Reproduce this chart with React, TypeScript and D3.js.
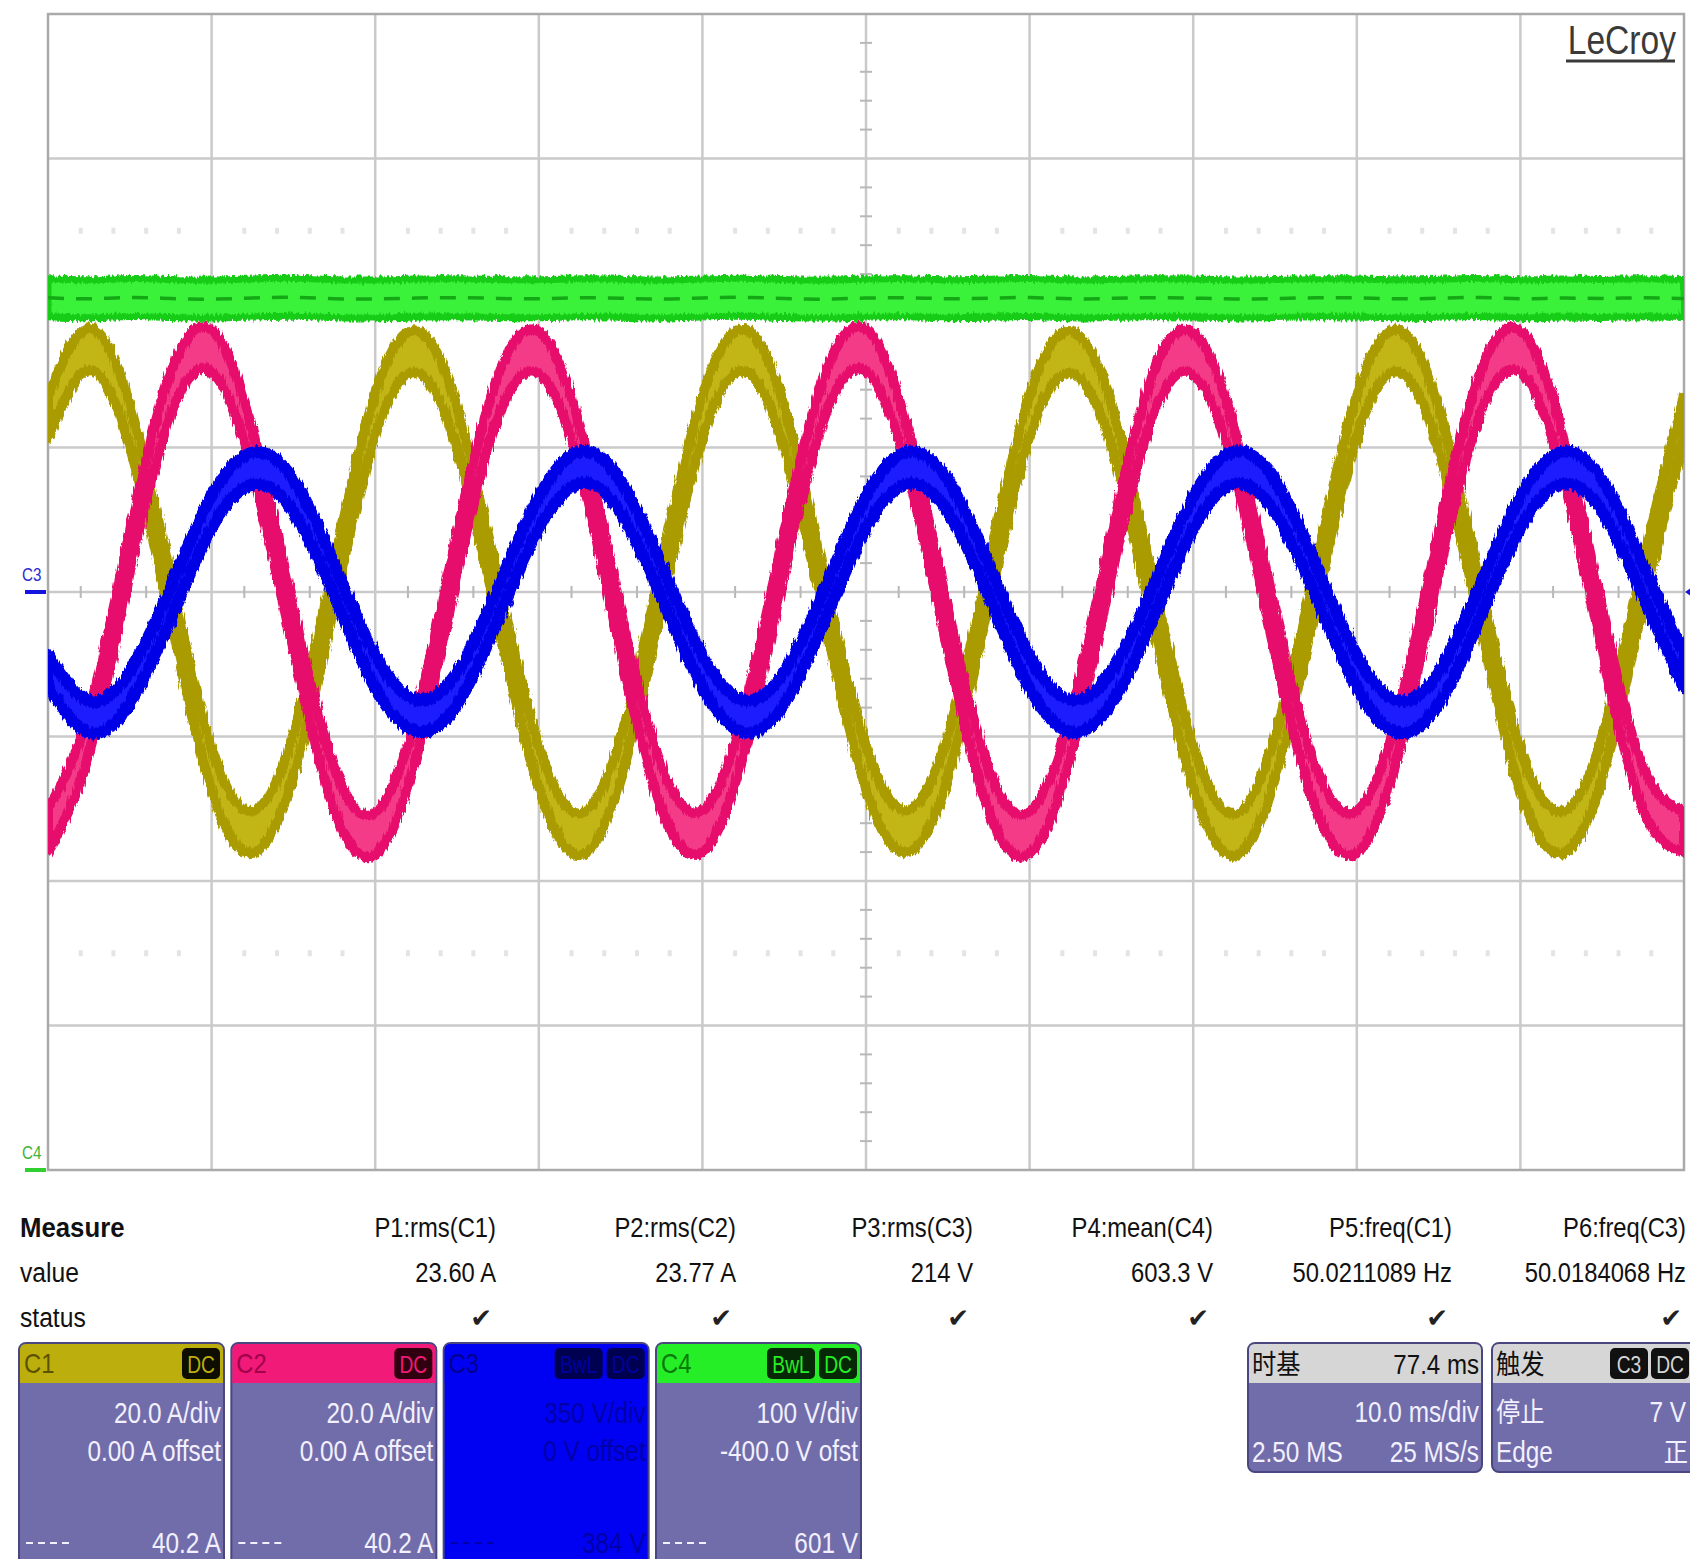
import React from 'react';
import * as d3 from 'd3';

const WIDTH = 1690;
const HEIGHT = 1559;
const GRID = { left: 48, top: 14, right: 1684, bottom: 1170 };
const DIVS_X = 10;
const DIVS_Y = 8;
const SANS = "'Liberation Sans', Arial, sans-serif";
const CJK = "'Noto Sans CJK SC', 'Liberation Sans', sans-serif";

// sample instants, ms (10 ms/div, 10 div)
const TIME_MS = [0, 2.5, 5, 7.5, 10, 12.5, 15, 17.5, 20, 22.5, 25, 27.5, 30, 32.5, 35, 37.5, 40, 42.5, 45, 47.5,
  50, 52.5, 55, 57.5, 60, 62.5, 65, 67.5, 70, 72.5, 75, 77.5, 80, 82.5, 85, 87.5, 90, 92.5, 95, 97.5, 100];

// C1 current, A
const C1_AMPS = [24.1, 33.6, 23.0, -0.8, -24.5, -33.2, -22.6, 1.2,
  24.5, 33.3, 22.7, -1.1, -24.2, -33.5, -23.1, 0.9,
  24.2, 33.5, 22.8, -1.3, -24.4, -33.1, -22.8, 1.1,
  24.4, 33.2, 23.1, -0.9, -24.1, -33.6, -22.9, 0.8,
  24.3, 33.4, 22.6, -1.2, -24.6, -33.3, -23.0, 1.0,
  24.3];

// C2 current, A
const C2_AMPS = [-33.0, -19.6, 5.5, 27.4, 33.4, 19.6, -5.1, -27.3,
  -33.4, -20.0, 5.2, 27.0, 33.1, 20.0, -5.4, -27.0,
  -33.1, -19.7, 5.4, 27.3, 33.5, 19.9, -5.2, -27.4,
  -33.3, -19.9, 5.1, 27.1, 33.0, 19.7, -5.5, -27.1,
  -33.2, -19.8, 5.3, 27.2, 33.3, 19.8, -5.3, -27.2,
  -33.2];

// C3 voltage, V
const C3_VOLTS = [-191, -302, -231, -27, 194, 299, 234, 30,
  -193, -299, -234, -29, 191, 302, 231, 27,
  -192, -301, -233, -28, 193, 300, 233, 29,
  -194, -300, -232, -30, 192, 301, 232, 28,
  -192, -302, -233, -27, 193, 300, 234, 28,
  -192];

// C4 dc bus, V
const C4_VOLTS = [603.6, 602.9, 603.8, 603.1, 602.7, 603.5, 603.9, 603.0, 602.8, 603.4,
  603.7, 603.2, 602.9, 603.6, 603.3, 602.8, 603.5, 603.9, 603.1, 602.7,
  603.4, 603.6, 603.0, 603.3, 603.8, 602.9, 603.2, 603.7, 603.4, 602.8,
  603.1, 603.6, 603.5, 602.9, 603.3, 603.8, 603.0, 603.4, 603.2, 603.6,
  603.1];

const CHANNEL_IDS = ['C1', 'C2', 'C3', 'C4'];
const VOLTS_PER_DIV = [20, 20, 350, 100];
const OFFSETS = [0, 0, 0, -400];
const SERIES = [C1_AMPS, C2_AMPS, C3_VOLTS, C4_VOLTS];

const MEASURE_NAMES = ['P1:rms(C1)', 'P2:rms(C2)', 'P3:rms(C3)', 'P4:mean(C4)', 'P5:freq(C1)', 'P6:freq(C3)'];
const MEASURE_VALUES = ['23.60 A', '23.77 A', '214 V', '603.3 V', '50.0211089 Hz', '50.0184068 Hz'];

const BOX_SCALE = ['20.0 A/div', '20.0 A/div', '350 V/div', '100 V/div'];
const BOX_OFFSET = ['0.00 A offset', '0.00 A offset', '0 V offset', '-400.0 V ofst'];
const BOX_LEVEL = ['40.2 A', '40.2 A', '384 V', '601 V'];
const BOX_BADGES = [['DC'], ['DC'], ['BwL', 'DC'], ['BwL', 'DC']];

const TIMEBASE = { title: '时基', delay: '77.4 ms', perDiv: '10.0 ms/div', points: '2.50 MS', rate: '25 MS/s' };
const TRIGGER = { title: '触发', source: 'C3', coupling: 'DC', state: '停止', level: '7 V', type: 'Edge', slope: '正' };

const TRACE_STYLE = [
  { fill: '#c2b519', stroke: '#a99b06', half: 21, width: 10 },
  { fill: '#f33a88', stroke: '#e6106c', half: 21, width: 10 },
  { fill: '#1c1cff', stroke: '#0606e6', half: 16, width: 12 },
  { fill: '#3af23a', stroke: '#18cc18', half: 19, width: 7 },
];
const HEADER_STYLE = [
  { bg: '#bcae0c', text: '#5c5200', badgeBg: '#0d0d00', badgeText: '#bcae0c' },
  { bg: '#f21a78', text: '#a0004c', badgeBg: '#300010', badgeText: '#f21a78' },
  { bg: '#0000f2', text: '#000090', badgeBg: '#000050', badgeText: '#0000a0' },
  { bg: '#26ee26', text: '#0a7a0a', badgeBg: '#062806', badgeText: '#26ee26' },
];
const BOX_BODY = '#716daa';

const X = d3.scaleLinear().domain([0, 100]).range([GRID.left, GRID.right]);
const yScaleFor = (perDiv: number, offset: number) =>
  d3.scaleLinear().domain([-4 * perDiv - offset, 4 * perDiv - offset]).range([GRID.bottom, GRID.top]);

const divX = (GRID.right - GRID.left) / DIVS_X;
const divY = (GRID.bottom - GRID.top) / DIVS_Y;
const centerX = GRID.left + divX * 5;
const centerY = GRID.top + divY * 4;

function T({ x, y, children, size = 28, anchor = 'start', fill = '#111', weight = 400, sx = 0.88, family = SANS }: any) {
  return (
    <text transform={`translate(${x},${y}) scale(${sx},1)`} fontSize={size} textAnchor={anchor}
      fill={fill} fontWeight={weight} fontFamily={family}>{children}</text>
  );
}

function Grid() {
  const xs = d3.range(1, DIVS_X).map(i => GRID.left + i * divX);
  const ys = d3.range(1, DIVS_Y).map(i => GRID.top + i * divY);
  const minorX = d3.range(1, DIVS_X * 5).filter(i => i % 5 !== 0).map(i => GRID.left + i * divX / 5);
  const minorY = d3.range(1, DIVS_Y * 5).filter(i => i % 5 !== 0).map(i => GRID.top + i * divY / 5);
  const faintRows = [GRID.top + 1.5 * divY, GRID.top + 6.5 * divY];
  return (
    <g>
      {xs.map(x => <line key={'vx' + x} x1={x} x2={x} y1={GRID.top} y2={GRID.bottom} stroke="#cacaca" strokeWidth={2.5} />)}
      {ys.map(y => <line key={'hy' + y} x1={GRID.left} x2={GRID.right} y1={y} y2={y} stroke="#cacaca" strokeWidth={2.5} />)}
      {faintRows.map(y => minorX.map(x => (
        <rect key={'f' + y + '-' + x} x={x - 2} y={y - 3} width={4} height={6} fill="#e4e4e4" />
      )))}
      {minorX.map(x => <line key={'tx' + x} x1={x} x2={x} y1={centerY - 6} y2={centerY + 6} stroke="#b8b8b8" strokeWidth={2} />)}
      {minorY.map(y => <line key={'ty' + y} x1={centerX - 6} x2={centerX + 6} y1={y} y2={y} stroke="#b8b8b8" strokeWidth={2} />)}
      <rect x={GRID.left} y={GRID.top} width={GRID.right - GRID.left} height={GRID.bottom - GRID.top}
        fill="none" stroke="#aaaaaa" strokeWidth={2.5} />
    </g>
  );
}

function Traces() {
  return (
    <g clipPath="url(#plotClip)">
      {SERIES.map((values, ci) => {
        const y = yScaleFor(VOLTS_PER_DIV[ci], OFFSETS[ci]);
        const st = TRACE_STYLE[ci];
        const area = d3.area<number>()
          .x((_, i) => X(TIME_MS[i]))
          .y0(v => y(v) + st.half)
          .y1(v => y(v) - st.half)
          .curve(d3.curveNatural);
        const mid = d3.line<number>()
          .x((_, i) => X(TIME_MS[i]))
          .y(v => y(v))
          .curve(d3.curveNatural);
        return (
          <g key={CHANNEL_IDS[ci]}>
            <path d={area(values) || ''} fill={st.fill} stroke={st.stroke} strokeWidth={st.width}
              strokeLinejoin="round" filter="url(#rough)" />
            {ci === 3 && (
              <path d={mid(values) || ''} fill="none" stroke="#14a814" strokeWidth={3.5} strokeDasharray="16 12" />
            )}
          </g>
        );
      })}
    </g>
  );
}

function Markers() {
  const y3 = yScaleFor(VOLTS_PER_DIV[2], OFFSETS[2])(0);
  const y4 = yScaleFor(VOLTS_PER_DIV[3], OFFSETS[3])(0);
  return (
    <g>
      <T x={22} y={y3 - 11} size={19} fill="#2a2ad0" sx={0.8}>C3</T>
      <line x1={25} x2={GRID.left - 2} y1={y3} y2={y3} stroke="#1414e0" strokeWidth={4} />
      <T x={22} y={y4 - 11} size={19} fill="#3cb43c" sx={0.8}>C4</T>
      <line x1={25} x2={GRID.left - 2} y1={y4} y2={y4} stroke="#30d030" strokeWidth={4} />
      <path d={`M${GRID.right + 1},${y3} l7,-5 v10 z`} fill="#1414e0" />
      <g>
        <T x={1676} y={54} size={40} fill="#3a3a3a" anchor="end" sx={0.84}>LeCroy</T>
        <line x1={1566} x2={1675} y1={61} y2={61} stroke="#3a3a3a" strokeWidth={3} />
      </g>
    </g>
  );
}

function Measurements() {
  const colRight = [496, 736, 973, 1213, 1452, 1686];
  const rows = [1237, 1282, 1327];
  return (
    <g>
      <T x={20} y={rows[0]} weight={700} sx={0.92}>Measure</T>
      <T x={20} y={rows[1]}>value</T>
      <T x={20} y={rows[2]}>status</T>
      {MEASURE_NAMES.map((name, i) => (
        <g key={name}>
          <T x={colRight[i]} y={rows[0]} anchor="end" sx={0.85}>{name}</T>
          <T x={colRight[i]} y={rows[1]} anchor="end" sx={0.85}>{MEASURE_VALUES[i]}</T>
          <text x={colRight[i] - 4} y={rows[2]} fontSize={26} textAnchor="end" fill="#222"
            fontFamily="'DejaVu Sans', sans-serif">✔</text>
        </g>
      ))}
    </g>
  );
}

function ChannelBoxes() {
  const boxX = d3.scaleLinear().domain([0, 3]).range([19, 656]);
  const top = 1343;
  const w = 205;
  const headH = 40;
  return (
    <g>
      {CHANNEL_IDS.map((id, i) => {
        const x = boxX(i);
        const hs = HEADER_STYLE[i];
        const isC3 = i === 2;
        const bodyFill = isC3 ? hs.bg : BOX_BODY;
        const textFill = isC3 ? '#0000a8' : '#f2f0ff';
        const badges = BOX_BADGES[i];
        return (
          <g key={id}>
            <rect x={x} y={top} width={w} height={260} rx={7} fill={bodyFill} stroke="#4a4780" strokeWidth={2} />
            <path d={`M${x + 1},${top + headH} V${top + 7} q0,-6 6,-6 H${x + w - 7} q6,0 6,6 V${top + headH} Z`}
              fill={hs.bg} />
            <T x={x + 5} y={top + 30} size={27} fill={hs.text}>{id}</T>
            {badges.slice().reverse().map((b, bi) => {
              const bw = b.length > 2 ? 48 : 38;
              const bx = x + w - 4 - (bi === 0 ? bw : bw + 42);
              return (
                <g key={b}>
                  <rect x={bx} y={top + 5} width={bw} height={31} rx={5} fill={hs.badgeBg} />
                  <T x={bx + bw / 2} y={top + 30} size={24} anchor="middle" fill={hs.badgeText} sx={0.8}>{b}</T>
                </g>
              );
            })}
            <T x={x + w - 3} y={top + 80} size={29} anchor="end" fill={textFill} sx={0.84}>{BOX_SCALE[i]}</T>
            <T x={x + w - 3} y={top + 118} size={29} anchor="end" fill={textFill} sx={0.84}>{BOX_OFFSET[i]}</T>
            <line x1={x + 7} x2={x + 52} y1={top + 200} y2={top + 200} stroke={textFill}
              strokeWidth={2} strokeDasharray="7 5" />
            <T x={x + w - 3} y={top + 210} size={29} anchor="end" fill={textFill} sx={0.84}>{BOX_LEVEL[i]}</T>
          </g>
        );
      })}
    </g>
  );
}

function TimebaseTrigger() {
  const top = 1343;
  const tb = { x: 1248, w: 234 };
  const tr = { x: 1492, w: 215 };
  const headH = 40;
  const head = (x: number, w: number) =>
    `M${x + 1},${top + headH} V${top + 7} q0,-6 6,-6 H${x + w - 7} q6,0 6,6 V${top + headH} Z`;
  return (
    <g>
      <rect x={tb.x} y={top} width={tb.w} height={129} rx={7} fill={BOX_BODY} stroke="#4a4780" strokeWidth={2} />
      <path d={head(tb.x, tb.w)} fill="#d6d6d6" />
      <T x={tb.x + 4} y={top + 31} size={27} fill="#111" family={CJK} sx={0.9}>{TIMEBASE.title}</T>
      <T x={tb.x + tb.w - 3} y={top + 31} size={28} anchor="end" fill="#111" sx={0.86}>{TIMEBASE.delay}</T>
      <T x={tb.x + tb.w - 3} y={top + 79} size={29} anchor="end" fill="#f2f0ff" sx={0.84}>{TIMEBASE.perDiv}</T>
      <T x={tb.x + 4} y={top + 119} size={29} fill="#f2f0ff" sx={0.84}>{TIMEBASE.points}</T>
      <T x={tb.x + tb.w - 3} y={top + 119} size={29} anchor="end" fill="#f2f0ff" sx={0.84}>{TIMEBASE.rate}</T>

      <rect x={tr.x} y={top} width={tr.w} height={129} rx={7} fill={BOX_BODY} stroke="#4a4780" strokeWidth={2} />
      <path d={head(tr.x, tr.w)} fill="#d6d6d6" />
      <T x={tr.x + 4} y={top + 31} size={27} fill="#111" family={CJK} sx={0.9}>{TRIGGER.title}</T>
      <rect x={1610} y={top + 5} width={38} height={31} rx={5} fill="#111" />
      <T x={1629} y={top + 30} size={24} anchor="middle" fill="#d6d6d6" sx={0.8}>{TRIGGER.source}</T>
      <rect x={1651} y={top + 5} width={38} height={31} rx={5} fill="#111" />
      <T x={1670} y={top + 30} size={24} anchor="middle" fill="#d6d6d6" sx={0.8}>{TRIGGER.coupling}</T>
      <T x={tr.x + 4} y={top + 79} size={27} fill="#f2f0ff" family={CJK} sx={0.9}>{TRIGGER.state}</T>
      <T x={1686} y={top + 79} size={29} anchor="end" fill="#f2f0ff" sx={0.84}>{TRIGGER.level}</T>
      <T x={tr.x + 4} y={top + 119} size={29} fill="#f2f0ff" sx={0.84}>{TRIGGER.type}</T>
      <T x={1688} y={top + 119} size={27} anchor="end" fill="#f2f0ff" family={CJK} sx={0.9}>{TRIGGER.slope}</T>
    </g>
  );
}

export default function App() {
  return (
    <svg width={WIDTH} height={HEIGHT} viewBox={`0 0 ${WIDTH} ${HEIGHT}`}
      style={{ position: 'absolute', left: 0, top: 0, display: 'block', background: '#fff' }}>
      <defs>
        <clipPath id="plotClip">
          <rect x={GRID.left} y={GRID.top} width={GRID.right - GRID.left} height={GRID.bottom - GRID.top} />
        </clipPath>
        <filter id="rough" x="-2%" y="-10%" width="104%" height="120%">
          <feTurbulence type="fractalNoise" baseFrequency="0.45 0.06" numOctaves={2} seed={4} result="n" />
          <feDisplacementMap in="SourceGraphic" in2="n" scale={7} xChannelSelector="R" yChannelSelector="G" />
        </filter>
      </defs>
      <rect x={0} y={0} width={WIDTH} height={HEIGHT} fill="#fff" />
      <Grid />
      <Traces />
      <Markers />
      <Measurements />
      <ChannelBoxes />
      <TimebaseTrigger />
    </svg>
  );
}
